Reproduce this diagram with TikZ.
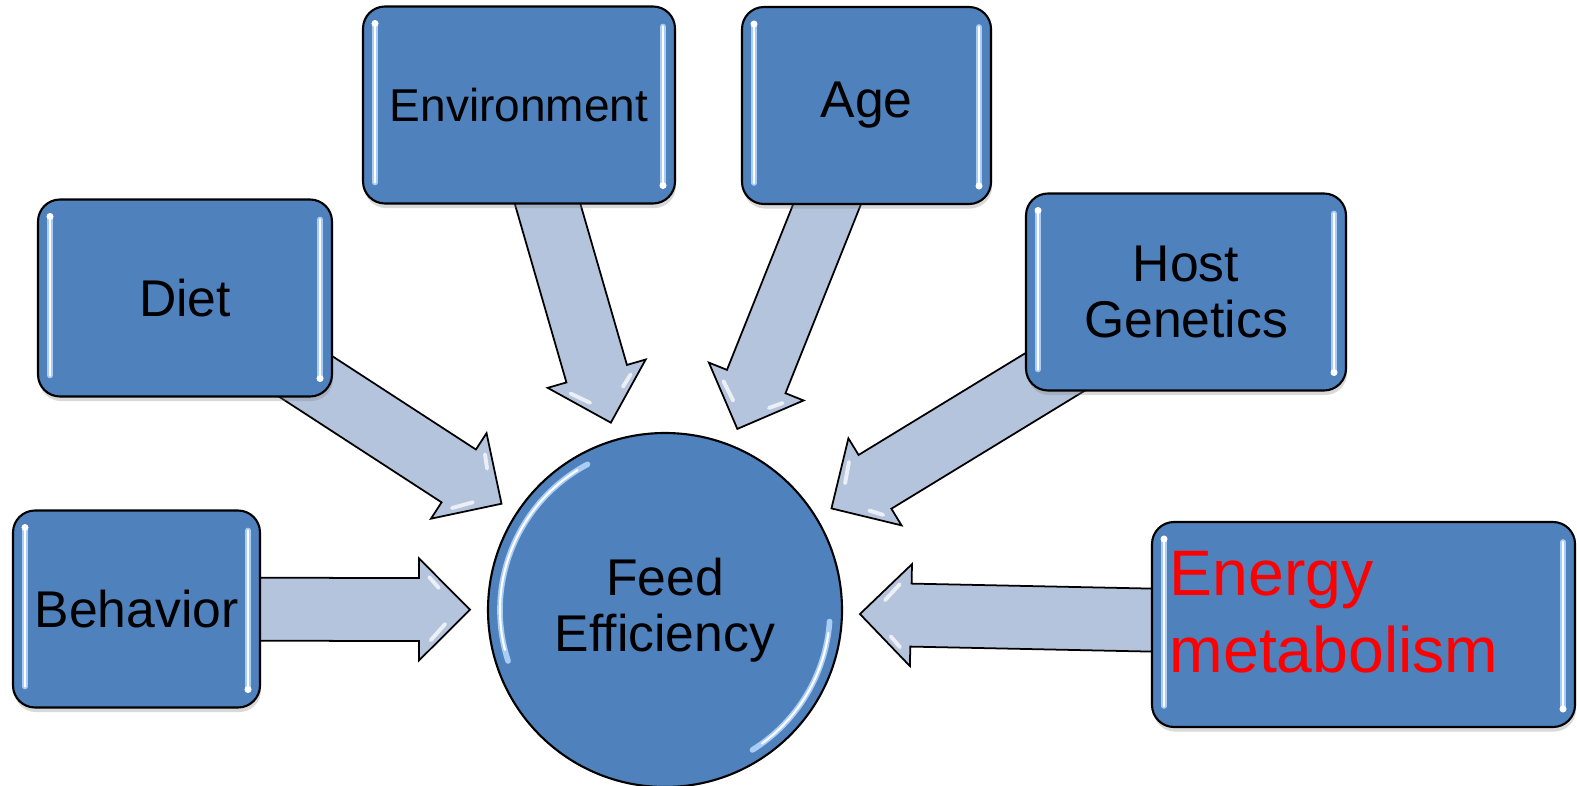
\documentclass[tikz,border=0pt]{standalone}
\usepackage{fontspec}
\setmainfont{Liberation Sans}
\usetikzlibrary{calc,shadows,backgrounds}

\definecolor{boxblue}{RGB}{79,129,189}
\definecolor{flowgray}{RGB}{181,196,221}
\definecolor{glow}{RGB}{170,205,245}

\tikzset{
  shine/.style={line cap=round, line width=1.6pt, glow},
  shine core/.style={line cap=round, line width=0.6pt, white},
  factor/.style={draw=black, line width=0.6pt, fill=boxblue, rounded corners=0.22cm,
    minimum height=1.97cm, inner sep=0pt, align=center,
    font=\fontsize{14.7}{15.9}\selectfont,
    drop shadow={shadow xshift=0.3pt, shadow yshift=-1.3pt, opacity=0.3},
    path picture={
      \coordinate (nw) at ([xshift=0.12cm,yshift=-0.17cm]path picture bounding box.north west);
      \coordinate (sw) at ([xshift=0.12cm,yshift=0.21cm]path picture bounding box.south west);
      \coordinate (ne) at ([xshift=-0.12cm,yshift=-0.2cm]path picture bounding box.north east);
      \coordinate (se) at ([xshift=-0.12cm,yshift=0.18cm]path picture bounding box.south east);
      \draw[shine] (nw) -- (sw);
      \draw[shine] (ne) -- (se);
      \draw[shine core] (nw) -- (sw);
      \draw[shine core] (ne) -- (se);
      \fill[white] (nw) circle (1pt);
      \fill[white] (se) circle (1pt);
    }},
  hub/.style={circle, draw=black, line width=0.6pt, fill=boxblue, minimum size=3.54cm,
    inner sep=0pt, align=center, font=\fontsize{14.7}{15.9}\selectfont},
  flow/.style={draw=black, line width=0.5pt, fill=flowgray, line join=miter},
  bevel/.style={line cap=round, line width=1.1pt, white, opacity=0.75},
}

\begin{document}
\begin{tikzpicture}
\useasboundingbox (0,0) rectangle (15.77,7.85);

% the factors around the centre
\node[factor, minimum width=2.47cm] (behavior) at (1.365,1.76) {Behavior};
\node[factor, minimum width=2.94cm] (diet) at (1.85,4.87) {Diet};
\node[factor, minimum width=3.12cm, font=\fontsize{13.1}{14.5}\selectfont] (env) at (5.19,6.80) {Environment};
\node[factor, minimum width=2.49cm] (age) at (8.665,6.795) {Age};
\node[factor, minimum width=3.20cm] (host) at (11.86,4.93) {Host\\Genetics};
\node[factor, minimum width=4.23cm, minimum height=2.05cm] (energy) at (13.635,1.605) {};
\node[anchor=north west, inner sep=0pt, align=left, text=red,
  font=\fontsize{18.3}{21.9}\selectfont] (energy-label)
  at ([xshift=0.18cm,yshift=-0.30cm]energy.north west) {Energy\\metabolism};

\node[hub] (fe) at (6.65,1.75) {Feed\\Efficiency};
\draw[shine] (fe.center) ++(118:1.65) arc[start angle=118, end angle=198, radius=1.65];
\draw[shine core] (fe.center) ++(122:1.65) arc[start angle=122, end angle=194, radius=1.65];
\draw[shine] (fe.center) ++(-4:1.65) arc[start angle=-4, end angle=-58, radius=1.65];
\draw[shine core] (fe.center) ++(-8:1.65) arc[start angle=-8, end angle=-54, radius=1.65];

% block arrows, tucked under the boxes
\begin{pgfonlayer}{background}
\foreach \src in {behavior,diet,env,age,host,energy}{
  \coordinate (\src-tip) at ($(fe.center)!1.95cm!(\src.center)$);
  \coordinate (\src-neck) at ($(fe.center)!2.46cm!(\src.center)$);
  \draw[flow] ($(\src.center)!0.315cm!90:(fe.center)$)
    -- ($(\src-neck)!0.315cm!90:(fe.center)$)
    -- ($(\src-neck)!0.51cm!90:(fe.center)$)
    -- (\src-tip)
    -- ($(\src-neck)!0.51cm!-90:(fe.center)$)
    -- ($(\src-neck)!0.315cm!-90:(fe.center)$)
    -- ($(\src.center)!0.315cm!-90:(fe.center)$) -- cycle;
  % glassy bevels along the head edges
  \coordinate (\src-in) at ($(fe.center)!2.07cm!(\src.center)$);
  \coordinate (\src-hl) at ($($(fe.center)!2.39cm!(\src.center)$)!0.36cm!90:(fe.center)$);
  \coordinate (\src-hr) at ($($(fe.center)!2.39cm!(\src.center)$)!0.36cm!-90:(fe.center)$);
  \draw[bevel] ($(\src-hl)!0.1!(\src-in)$) -- ($(\src-hl)!0.4!(\src-in)$);
  \draw[bevel] ($(\src-hr)!0.15!(\src-in)$) -- ($(\src-hr)!0.6!(\src-in)$);
}
\end{pgfonlayer}
\end{tikzpicture}
\end{document}
